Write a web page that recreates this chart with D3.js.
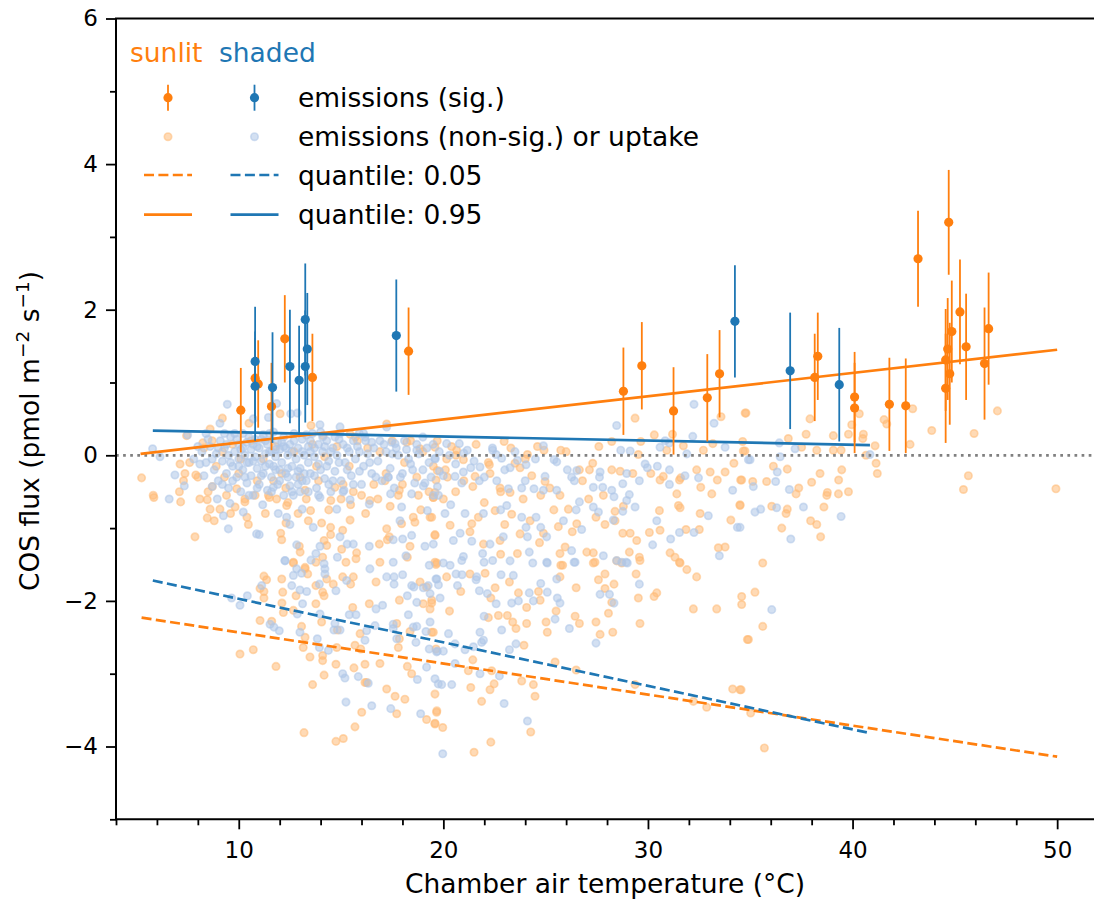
<!DOCTYPE html>
<html>
<head>
<meta charset="utf-8">
<script src="https://cdn.jsdelivr.net/npm/d3@7"></script>
<style>
body { margin: 0; background: #fff; }
svg { display: block; font-family: "DejaVu Sans", sans-serif; }
</style>
</head>
<body>
<svg id="chart" width="1094" height="900"></svg>
<script>
var sunlitColor = '#ff7f0e';
var shadedColor = '#1f77b4';
var sunlitLight = '#ffbb78';
var shadedLight = '#aec7e8';

var xTicks = [10, 20, 30, 40, 50];
var xMinorTicks = [4, 6, 8, 12, 14, 16, 18, 22, 24, 26, 28, 32, 34, 36, 38, 42, 44, 46, 48, 52];
var yTicks = [-4, -2, 0, 2, 4, 6];
var yMinorTicks = [-5, -3, -1, 1, 3, 5];

// significant emissions: [temperature, flux, error]
var sunlitSig = [
    [10.1, 0.62, 0.58], [10.8, 1.06, 0.55], [10.95, 0.98, 0.6], [11.6, 0.67, 0.6],
    [12.25, 1.6, 0.6], [13.6, 1.07, 0.6], [18.3, 1.43, 0.6], [28.8, 0.88, 0.6],
    [29.7, 1.23, 0.6], [31.25, 0.61, 0.6], [32.9, 0.79, 0.6], [33.5, 1.12, 0.6],
    [38.15, 1.07, 0.6], [38.3, 1.36, 0.6], [40.1, 0.8, 0.62], [40.1, 0.65, 0.62],
    [41.8, 0.70, 0.64], [42.6, 0.68, 0.65], [43.2, 2.7, 0.66], [44.55, 1.31, 0.7],
    [44.55, 0.92, 0.75], [44.65, 1.46, 0.7], [44.7, 3.2, 0.72], [44.75, 1.12, 0.7],
    [44.85, 1.7, 0.7], [45.25, 1.97, 0.72], [45.55, 1.49, 0.73], [46.45, 1.26, 0.77],
    [46.65, 1.74, 0.77]
];
var shadedSig = [
    [10.8, 1.29, 0.75], [10.8, 0.95, 0.75], [11.65, 0.93, 0.76], [12.5, 1.22, 0.78],
    [12.95, 1.03, 0.75], [13.25, 1.865, 0.77], [13.35, 1.46, 0.77], [13.25, 1.22, 0.77],
    [17.7, 1.645, 0.77], [34.25, 1.84, 0.77], [36.95, 1.16, 0.8], [39.35, 0.97, 0.78]
];

// non-significant emissions or uptake: [temperature, flux]
var sunlitOther = [
    [9.2,0.51],[8.6,0.36],[7.45,0.27],[8.24,0.17],[8.7,0.20],[5.25,-0.31],[5.82,-0.55],[5.85,-0.58],[7.16,-0.64],[7.13,-0.12],
    [7.9,-0.27],[7.3,-0.35],[7.1,-0.50],[7.37,-0.25],[8.46,-0.61],[8.6,-0.74],[9.08,-0.74],[8.71,-0.43],[8.46,-0.86],[7.86,-1.12],
    [10.47,-0.95],[9.82,-0.71],[10.3,-0.64],[9.9,-0.46],[12.05,-1.07],[11.45,-0.55],[11.85,-0.60],[12.34,-0.69],[12.31,-0.93],[12.1,-1.16],
    [12.67,-1.47],[12.96,-1.25],[13.0,-1.33],[13.24,-1.54],[13.51,-0.76],[13.24,-0.48],[14.05,-0.93],[14.49,-0.99],[14.49,-1.09],[14.17,-1.17],
    [14.3,-1.24],[14.1,-1.40],[15.03,-1.29],[15.08,-1.03],[15.44,-0.89],[15.47,-0.68],[14.7,-0.44],[15.76,-1.34],[15.73,-1.42],[16.87,-1.22],
    [16.9,-1.47],[18.24,-1.40],[17.26,-1.16],[17.36,-1.12],[18.37,-1.25],[19.59,-1.10],[19.59,-1.47],[17.23,-1.01],[17.96,-0.94],[18.53,-0.85],
    [18.61,-0.92],[19.35,-0.85],[16.41,-0.62],[17.85,-0.48],[18.78,-0.55],[19.51,-0.58],[19.59,-0.51],[17.15,-0.35],[18.21,0.18],[18.86,0.09],
    [17.23,0.43],[19.59,0.11],[19.7,-0.21],[15.8,0.20],[15.44,0.29],[14.13,0.27],[13.53,0.41],[12.02,0.57],[10.5,0.44],
    [29.37,0.51],[30.31,0.28],[31.2,0.29],[33.57,0.53],[34.75,0.58],[29.65,0.19],[28.23,0.19],[29.53,0.01],[30.92,0.07],[31.73,0.13],
    [32.71,0.07],[33.17,0.16],[34.66,0.06],[34.2,-0.11],[27.3,-0.11],[28.23,-0.20],[28.64,-0.22],[29.26,-0.25],[30.14,-0.25],[30.75,-0.29],
    [30.59,-0.34],[31.54,-0.34],[31.6,-0.31],[32.38,-0.20],[33.04,-0.23],[33.39,-0.34],[33.77,-0.23],[34.53,-0.34],[32.58,-0.44],[33.12,-0.53],
    [31.41,-0.53],[28.8,-0.70],[31.49,-0.69],[31.57,-0.72],[30.56,-0.76],[28.39,-0.77],[28.39,-0.90],[32.55,-0.80],[34.5,-0.69],[34.05,-0.89],
    [30.59,-1.03],[30.07,-1.06],[29.45,-1.17],[28.77,-1.07],[29.13,-1.07],[31.86,-1.02],[32.51,-1.02],[33.44,-1.27],[33.77,-1.26],[31.08,-1.34],
    [31.32,-1.40],[31.54,-1.47],[29.58,-1.40],[29.09,-1.33],[28.47,-1.45],
    [20.65,0.07],[20.62,0.00],[22.97,0.19],[24.92,0.07],[25.74,0.07],[24.11,0.01],[23.75,-0.17],[23.5,-0.11],[22.25,-0.13],[20.98,-0.06],
    [20.16,-0.05],[19.51,-0.15],[19.64,-0.34],[19.51,-0.58],[20.2,-0.30],[21.55,-0.29],[21.44,-0.43],[22.28,-0.25],[22.77,-0.45],[23.26,-0.51],
    [24.32,-0.28],[24.97,-0.36],[24.76,-0.55],[25.7,-0.55],[26.65,-0.20],[27.14,-0.20],[27.82,-0.55],[20.0,-0.60],[19.43,-0.85],[21.71,-0.85],
    [21.39,-0.94],[22.53,-0.76],[23.34,-0.81],[24.24,-0.90],[25.62,-0.98],[26.11,-0.74],[26.52,-0.94],[27.46,-0.85],[19.59,-1.09],[20.33,-0.96],
    [21.96,-1.22],[22.77,-1.17],[23.75,-1.08],[24.89,-1.07],[25.95,-1.26],[27.01,-1.33],[27.33,-1.34],[19.68,-1.48],[22.8,-1.36],[23.62,-1.35],
    [25.7,-1.35],[25.83,-1.51],[27.41,-1.47],
    [34.79,0.58],[37.92,0.50],[37.73,0.29],[36.86,0.23],[34.63,0.19],[34.74,0.06],[37.51,0.11],[38.25,0.07],[39.06,0.27],[39.06,0.07],
    [39.44,0.07],[39.8,0.29],[39.96,0.42],[40.33,0.57],[40.53,0.29],[40.5,0.23],[40.66,0.00],[41.1,0.13],[41.15,-0.11],[41.21,-0.25],
    [41.54,0.49],[41.67,0.43],[42.81,0.15],[42.94,0.64],[43.87,0.34],[45.94,0.30],[47.08,0.61],[45.66,-0.28],[45.42,-0.47],[49.94,-0.46],
    [36.13,-0.15],[35.8,-0.36],[35.12,-0.36],[34.58,-0.34],[36.81,-0.19],[38.41,-0.25],[38.0,-0.37],[39.47,-0.20],[39.32,-0.34],[37.37,-0.45],
    [37.24,-0.53],[38.77,-0.51],[38.74,-0.55],[39.31,-0.53],[39.8,-0.50],[34.5,-0.68],[36.05,-0.70],[36.81,-0.74],[36.75,-0.80],[38.6,-0.71],
    [37.95,-0.90],[38.25,-0.95],[36.54,-1.00],[38.44,-1.12],[35.61,-1.48],
    [12.67,-1.48],[13.24,-1.56],[13.37,-1.63],[11.23,-1.66],[11.36,-1.71],[12.1,-1.70],[11.04,-1.83],[11.23,-1.87],[11.23,-1.96],[12.15,-1.88],
    [12.8,-1.93],[13.77,-1.79],[14.3,-1.70],[13.77,-1.47],[14.62,-1.77],[14.1,-1.88],[14.17,-1.93],[15.08,-1.67],[15.6,-1.67],[15.47,-1.77],
    [15.24,-1.47],[16.71,-1.74],[18.86,-1.74],[19.18,-1.81],[17.85,-1.99],[19.02,-2.04],[19.43,-1.99],[19.35,-2.11],[11.04,-2.27],[11.61,-2.28],
    [10.06,-2.73],[10.71,-2.67],[11.82,-2.90],[12.11,-2.03],[12.18,-2.16],[12.67,-2.13],[13.77,-2.04],[13.07,-2.35],[13.24,-2.50],[13.15,-2.64],
    [14.05,-2.29],[13.48,-2.77],[14.1,-2.75],[14.1,-2.82],[14.17,-3.02],[13.61,-3.15],[14.75,-2.87],[14.82,-2.40],[14.79,-2.64],[15.57,-2.09],
    [15.93,-2.45],[15.68,-2.61],[15.96,-2.66],[16.38,-2.04],[17.72,-2.31],[17.85,-2.52],[17.8,-2.64],[18.37,-2.42],[19.43,-2.43],[19.64,-2.66],
    [16.9,-2.86],[16.17,-2.87],[15.63,-2.92],[16.17,-3.12],[16.25,-3.12],[17.23,-3.21],[17.64,-3.31],[18.12,-3.35],[18.24,-2.90],[18.45,-3.00],
    [19.59,-3.28],[16.01,-3.53],[17.72,-3.55],[19.18,-3.63],[19.59,-3.69],[19.67,-3.53],[15.68,-3.73],[13.19,-3.81],[14.75,-3.93],[15.11,-3.89],
    [19.64,-1.50],[25.74,-1.51],[27.33,-1.48],[28.72,-1.48],[29.61,-1.445],[31.57,-1.48],[31.9,-1.57],[32.38,-1.67],[20.16,-1.67],[21.3,-1.63],
    [22.04,-1.62],[23.23,-1.74],[20.85,-1.87],[22.53,-1.82],[22.32,-1.96],[23.67,-1.89],[24.65,-1.87],[24.73,-1.99],[25.7,-1.67],[24.07,-2.09],
    [26.49,-1.82],[26.44,-2.21],[26.65,-2.31],[27.58,-1.71],[27.9,-1.63],[28.34,-1.77],[27.9,-1.83],[28.23,-2.02],[28.07,-2.17],[27.46,-2.29],
    [27.66,-2.46],[28.28,-2.43],[29.42,-1.63],[29.53,-1.96],[29.61,-2.31],[30.3,-1.94],[30.43,-1.89],[32.22,-2.11],[33.36,-2.11],[34.58,-1.94],
    [34.58,-2.05],[34.86,-2.53],[20.3,-2.14],[19.43,-2.03],[19.51,-2.43],[22.2,-2.23],[22.69,-2.20],[23.13,-2.20],[23.39,-2.29],[23.55,-2.38],
    [23.94,-2.61],[24.07,-2.31],[25.02,-2.29],[25.08,-2.43],[25.51,-2.14],[21.44,-2.81],[21.22,-2.96],[22.36,-2.96],[22.48,-3.14],[22.28,-3.22],
    [23.83,-3.10],[24.4,-3.15],[24.48,-3.31],[25.46,-2.84],[26.49,-2.95],[21.34,-3.19],[21.87,-3.38],[19.68,-3.51],[19.59,-3.68],
    [19.97,-3.74],[24.27,-3.80],[22.32,-3.94],[21.5,-4.08],[29.37,-3.15],[32.22,-3.38],[32.87,-3.46],[34.14,-3.21],[34.5,-3.22],
    [35.23,-1.88],[35.61,-2.35],[34.91,-2.53],[34.55,-3.22],[35.02,-3.54],[35.69,-4.02],
    [8.0,-0.3],[8.3,0.1],[8.5,-0.5],[8.9,-0.15],[9.2,0.05],[9.4,-0.55],[9.7,0.15],[10.0,-0.25],[10.3,-0.6],[10.6,0.2],
    [10.9,-0.35],[11.2,-0.05],[11.5,-0.58],[11.8,0.12],[12.1,-0.25],[12.4,-0.65],[12.7,0.05],[13.0,-0.3],[13.3,-0.6],[13.6,0.15],
    [13.9,-0.35],[14.2,-0.02],[14.5,-0.62],[14.8,0.12],[15.1,-0.4],[15.4,-0.15],[15.7,0.25],[16.0,-0.55],[16.3,0.1],[16.6,-0.4],
    [16.9,0.05],[17.2,-0.25],[17.5,0.2],[17.8,-0.55],[18.1,-0.1],[18.4,0.2],[18.7,-0.3],[19.0,0.05],[19.3,-0.5],[19.7,0.2],
    [20.1,-0.2],[20.4,0.12],[21.0,-0.35],[21.6,0.15],[22.2,-0.1],[22.8,-0.5],[23.3,0.1],[24.0,-0.05],[24.6,0.12],[25.2,-0.45],
    [26.0,0.05],[26.8,-0.35],[27.6,0.12],
    [7.6,-0.1],[8.1,-0.6],[8.8,-0.9],[9.3,-0.3],[9.6,-0.8],[10.1,-0.05],[10.4,-0.85],[10.8,-0.55],[11.3,-0.8],[11.7,-0.35],
    [12.3,-0.45],[12.9,-0.8],[13.4,-0.9],[13.8,-0.15],[14.4,-0.75],[15.0,-0.6],[15.6,-0.5],[16.2,-0.8],[16.8,-0.6],[17.4,-0.7],
    [18.0,-0.4],[18.9,-0.75],[20.6,-0.5],[21.3,-1.05],[22.0,-0.65],[23.0,-0.95],[23.9,-0.6],[24.7,-1.2],[25.4,-0.75],[26.3,-1.05],
    [27.1,-0.6],[27.9,-0.95]
];

var shadedOther = [
    [9.44,0.70],[9.08,0.44],[8.4,0.30],[7.5,0.28],[5.79,0.09],[6.15,-0.02],[6.6,-0.60],[6.88,-0.27],[8.1,-0.12],[7.34,-0.42],
    [8.95,-0.60],[8.7,-0.43],[9.25,-0.83],[9.49,-1.01],[10.22,-0.78],[9.57,-0.66],[10.87,-1.08],[11.0,-1.09],[11.93,-0.80],[11.69,-0.44],
    [11.17,-0.68],[12.67,-0.55],[12.34,-0.85],[12.5,-0.95],[12.26,-1.45],[12.83,-1.23],[13.53,-1.44],[13.64,-0.99],[13.1,-0.74],[13.97,-0.58],
    [13.97,-1.25],[13.77,-1.35],[14.95,-1.12],[15.44,-0.61],[14.79,-0.74],[15.14,-0.48],[15.3,-1.22],[15.6,-1.22],[14.82,-1.40],[16.38,-1.25],
    [17.55,-1.47],[18.17,-1.38],[17.55,-1.16],[18.01,-1.15],[18.45,-1.10],[19.1,-1.25],[19.51,-1.22],[19.31,-1.51],[17.88,-0.90],[19.22,-0.76],
    [17.96,-0.71],[16.38,-0.67],[17.42,-0.53],[18.45,-0.53],[19.02,-0.42],[17.31,-0.30],[17.47,0.18],[17.64,0.16],[18.7,0.07],[17.23,0.39],
    [16.5,0.18],[16.17,0.25],[15.89,0.30],[14.95,0.39],[14.95,0.30],[13.97,0.42],[12.86,0.58],[12.54,0.57],[11.45,0.52],[11.85,0.71],[10.71,0.50],
    [28.47,0.41],[30.84,0.20],[32.19,0.26],[32.25,0.70],[33.23,0.44],[28.67,0.07],[29.13,0.06],[30.59,0.11],[31.05,0.17],[31.9,0.02],
    [33.77,0.11],[34.91,-0.06],[27.66,-0.23],[27.63,-0.30],[28.96,-0.25],[29.86,-0.12],[29.97,-0.17],[30.46,-0.15],[31.05,-0.20],[29.58,-0.35],
    [28.77,-0.39],[31.05,-0.40],[31.81,-0.28],[32.47,-0.31],[34.14,-0.48],[29.09,-0.54],[28.96,-0.62],[29.37,-0.71],[28.77,-0.77],[28.31,-0.89],
    [32.95,-0.83],[34.37,-0.99],[30.43,-0.90],[30.23,-1.23],[31.11,-1.15],[31.54,-1.06],[32.25,-1.06],[33.49,-1.38],[28.93,-1.47],[28.72,-1.47],
    [20.16,0.16],[20.78,0.16],[21.17,0.07],[22.41,0.07],[22.85,-0.04],[22.58,0.01],[24.89,0.13],[25.41,-0.06],[25.54,-0.09],[23.62,-0.07],
    [24.04,-0.13],[23.26,-0.17],[21.79,-0.16],[21.34,-0.17],[19.59,-0.04],[19.81,-0.22],[19.71,-0.43],[19.51,-0.55],[20.57,-0.29],[20.98,-0.23],
    [21.76,-0.35],[20.9,-0.38],[22.61,-0.35],[23.18,-0.46],[23.83,-0.45],[24.97,-0.29],[24.43,-0.46],[24.89,-0.48],[25.54,-0.48],[26.06,-0.20],
    [26.52,-0.21],[26.27,-0.30],[26.4,-0.35],[27.33,-0.44],[27.79,-0.44],[28.23,-0.48],[28.34,-0.57],[19.76,-0.55],[20.36,-0.68],[20.08,-0.80],
    [21.06,-0.80],[21.96,-0.80],[22.8,-0.75],[23.1,-0.69],[23.83,-0.85],[24.04,-0.99],[24.53,-0.85],[24.76,-0.99],[25.87,-0.90],[26.49,-0.75],
    [26.65,-0.64],[26.76,-1.02],[27.58,-0.78],[27.33,-0.71],[20.49,-1.17],[20.82,-1.07],[21.39,-1.18],[22.28,-1.22],[22.93,-1.12],[24.11,-1.12],
    [25.05,-1.12],[26.27,-1.31],[27.82,-1.38],[20.0,-1.48],[20.98,-1.39],[21.92,-1.35],[23.26,-1.45],[24.2,-1.33],[25.05,-1.47],[26.44,-1.47],
    [36.42,0.17],[37.19,0.09],[40.85,0.01],[34.99,-0.06],[36.46,-0.02],[36.32,-0.23],[36.24,-0.36],[35.15,-0.43],[36.91,-0.47],[35.23,-0.78],
    [35.51,-0.74],[36.29,-0.72],[37.6,-0.71],[39.44,-0.84],[34.5,-0.99],[36.98,-1.15],
    [12.26,-1.445],[12.83,-1.56],[12.67,-1.65],[13.07,-1.62],[11.12,-1.79],[12.59,-1.79],[12.99,-1.85],[13.32,-1.87],[13.94,-1.77],[14.21,-1.56],
    [14.21,-1.63],[14.17,-1.49],[14.75,-1.86],[15.27,-1.72],[16.41,-1.56],[17.23,-1.67],[17.59,-1.67],[17.59,-1.77],[18.01,-1.64],[18.45,-1.79],
    [18.56,-1.81],[19.02,-1.82],[19.26,-1.79],[19.64,-1.70],[19.35,-1.90],[18.24,-1.93],[18.7,-2.02],[10.06,-2.06],[9.65,-1.96],[10.42,-1.93],
    [11.53,-2.32],[11.98,-2.41],[11.72,-2.36],[12.86,-2.18],[13.12,-2.04],[13.97,-2.18],[12.99,-2.43],[13.84,-2.52],[13.94,-2.64],[14.38,-2.68],
    [14.7,-2.31],[14.65,-2.40],[14.95,-2.40],[15.4,-2.19],[15.73,-2.19],[16.25,-2.41],[16.17,-2.54],[16.71,-2.11],[17.03,-2.06],[16.66,-2.34],
    [17.55,-2.32],[17.55,-2.38],[17.72,-2.52],[18.29,-2.19],[18.53,-2.36],[18.7,-2.35],[19.15,-2.42],[18.66,-2.57],[19.31,-2.66],[19.67,-2.70],
    [15.08,-3.00],[15.19,-3.06],[15.84,-3.04],[16.33,-3.13],[18.73,-3.08],[19.18,-2.91],[19.59,-3.07],[19.75,-3.14],[15.24,-3.39],[16.5,-3.44],
    [17.43,-3.48],[18.89,-3.55],
    [20.33,-1.51],[20.9,-1.445],[21.99,-1.47],[22.41,-1.445],[24.37,-1.48],[25.08,-1.48],[26.39,-1.47],[28.47,-1.445],[28.99,-1.48],[19.68,-1.70],
    [20.62,-1.63],[20.91,-1.64],[21.63,-1.67],[21.6,-1.71],[22.82,-1.64],[23.42,-1.65],[19.76,-1.78],[20.69,-1.79],[21.76,-1.86],[22.15,-1.90],
    [22.58,-2.04],[24.2,-1.89],[24.76,-1.76],[25.08,-1.88],[25.54,-1.70],[25.57,-1.96],[25.7,-2.03],[24.4,-2.00],[23.34,-2.03],[23.67,-2.00],
    [26.16,-2.38],[27.66,-1.91],[28.12,-1.91],[28.34,-2.03],[27.46,-2.58],[29.58,-1.77],[19.84,-1.96],[19.35,-2.29],[20.25,-2.45],[19.71,-2.69],
    [20.0,-2.69],[20.57,-2.59],[21.06,-2.67],[21.47,-2.63],[21.87,-2.57],[21.96,-2.54],[21.79,-2.43],[21.99,-2.21],[22.85,-2.40],[23.23,-2.67],
    [23.55,-2.59],[25.46,-2.25],[20.57,-2.86],[21.79,-3.00],[22.74,-3.03],[19.92,-3.15],[20.41,-3.15],[22.97,-3.41],[24.11,-3.65],
    [19.97,-4.10],[36.05,-2.12],
    [8.2,0.05],[8.4,-0.1],[8.6,0.12],[8.8,-0.2],[8.9,0.02],[9.0,-0.35],[9.1,0.2],[9.2,-0.08],[9.3,0.1],[9.4,-0.25],
    [9.5,0.0],[9.5,-0.45],[9.6,0.25],[9.7,-0.15],[9.8,0.05],[9.9,-0.3],[10.0,0.15],[10.0,-0.05],[10.1,-0.5],[10.2,0.3],
    [10.2,-0.2],[10.3,0.0],[10.4,-0.38],[10.4,0.18],[10.5,-0.1],[10.6,0.08],[10.6,-0.28],[10.7,-0.55],[10.8,0.22],[10.8,-0.02],
    [10.9,-0.18],[11.0,0.1],[11.0,-0.4],[11.1,-0.08],[11.2,0.28],[11.2,-0.25],[11.3,0.02],[11.4,-0.48],[11.4,0.15],[11.5,-0.12],
    [11.6,-0.3],[11.6,0.05],[11.7,0.32],[11.8,-0.2],[11.8,-0.02],[11.9,0.18],[12.0,-0.35],[12.0,0.08],[12.1,-0.1],[12.2,-0.55],
    [12.2,0.25],[12.3,-0.25],[12.4,0.0],[12.5,0.15],[12.5,-0.42],[12.6,-0.15],[12.7,0.3],[12.8,-0.05],[12.8,-0.3],[12.9,0.1],
    [13.0,-0.5],[13.0,-0.18],[13.1,0.22],[13.2,0.0],[13.3,-0.35],[13.4,0.12],[13.4,-0.1],[13.5,-0.25],[13.6,0.3],[13.7,-0.02],
    [13.8,-0.45],[13.9,0.15],[14.0,-0.2],[14.1,0.05],[14.2,-0.32],[14.3,0.2],[14.4,-0.08],[14.5,-0.5],[14.6,0.1],[14.7,-0.22],
    [14.8,0.0],[15.0,-0.35],[15.1,0.15],[15.2,-0.1],[15.4,0.05],[15.5,-0.28],[15.7,-0.05],[15.8,0.12],[16.0,-0.4],[16.1,-0.15],
    [16.3,0.02],[16.5,-0.25],[16.6,0.1],[16.8,-0.08],[17.0,-0.35],[17.2,0.05],[17.4,-0.18],[17.6,-0.45],[17.8,0.0],[18.0,-0.25],
    [18.2,0.08],[18.4,-0.12],[18.6,-0.38],[18.8,0.02],[19.0,-0.2],[19.2,0.1],[19.4,-0.3],[19.6,-0.05],[19.8,0.05],[20.0,-0.28],
    [20.3,0.0],[20.6,-0.12],[21.0,0.03],[21.5,-0.08],[22.0,-0.3],[22.4,0.1],[23.0,-0.2],[23.5,0.05],[24.0,-0.35],[24.5,-0.05],
    [9.3,0.3],[9.6,-0.1],[9.9,0.22],[10.1,0.08],[10.3,-0.3],[10.5,0.25],[10.7,-0.08],[10.9,0.12],[11.1,-0.28],[11.3,0.2],
    [11.5,0.05],[11.7,-0.15],[11.9,-0.4],[12.1,0.18],[12.3,0.1],[12.4,-0.3],[12.6,0.05],[12.9,-0.22],[13.1,-0.35],[13.3,0.28],
    [13.5,0.05],[13.7,-0.28],[13.9,-0.12],[14.1,0.25],[14.3,-0.15],[14.6,-0.35],[14.9,0.22],[15.3,-0.2],[15.6,0.2],[15.9,-0.22],
    [16.2,0.2],[16.7,-0.3],[17.1,0.15],[17.5,0.02],[17.9,-0.3],[18.3,-0.05],[18.7,0.15],[19.1,-0.38],[19.5,0.15],
    [7.8,-0.05],[8.0,0.12],[8.3,-0.28],[8.5,0.22],[8.7,-0.05],[9.0,0.1],[9.2,-0.4],[9.4,0.15],[9.7,-0.35],[9.8,0.3],
    [10.0,-0.15],[10.2,0.1],[10.4,-0.1],[10.5,-0.55],[10.7,0.15],[10.9,-0.45],[11.1,0.22],[11.3,-0.15],[11.5,0.3],[11.6,-0.5],
    [11.8,0.08],[12.0,-0.2],[12.2,0.12],[12.4,-0.18],[12.6,-0.5],[12.7,0.2],[12.9,-0.4],[13.1,0.05],[13.2,-0.25],[13.4,-0.5],
    [13.5,0.2],[13.7,0.1],[13.9,-0.55],[14.0,0.32],[14.2,0.12],[14.4,-0.4],[14.5,0.05],[14.7,0.25],[14.9,-0.1],[15.1,-0.5],
    [15.3,0.1],[15.6,-0.4],[15.9,0.05],[16.1,0.3],[16.4,-0.1],[16.9,0.2],[17.3,-0.3],[17.7,0.1],[18.1,0.2],[18.5,-0.2],
    [19.0,0.25],[19.3,-0.1]
];

// quantile regression lines: endpoints [temperature, flux]
var sunlitQ95 = [[5.2, 0.02], [50.0, 1.45]];
var shadedQ95 = [[5.8, 0.34], [40.85, 0.14]];
var sunlitQ05 = [[5.25, -2.23], [50.0, -4.14]];
var shadedQ05 = [[5.8, -1.72], [40.75, -3.81]];

var plotLeft = 116;
var plotTop = 18.5;
var plotBottom = 819.3;

var xScale = d3.scaleLinear().domain([4, 52]).range([plotLeft, plotLeft + 48 * 20.46]);
var yScale = d3.scaleLinear().domain([-5, 6]).range([plotBottom, plotTop]);
var lineGenerator = d3.line()
    .x(function(d) { return xScale(d[0]); })
    .y(function(d) { return yScale(d[1]); });

var svg = d3.select('#chart');


/* Marks */
function drawScatter(data, color) {
    svg.append('g')
        .selectAll('circle')
        .data(data)
        .join('circle')
        .attr('cx', function(d) { return xScale(d[0]); })
        .attr('cy', function(d) { return yScale(d[1]); })
        .attr('r', 3.7)
        .style('fill', color)
        .style('fill-opacity', 0.55)
        .style('stroke', color)
        .style('stroke-opacity', 0.55)
        .style('stroke-width', 1.7);
}

function drawLine(data, color, dashed) {
    svg.append('path')
        .datum(data)
        .attr('d', lineGenerator)
        .style('fill', 'none')
        .style('stroke', color)
        .style('stroke-width', 2.7)
        .style('stroke-dasharray', dashed ? '10,4.4' : null);
}

function drawErrorbars(data, color) {
    var g = svg.append('g');
    g.selectAll('line')
        .data(data)
        .join('line')
        .attr('x1', function(d) { return xScale(d[0]); })
        .attr('x2', function(d) { return xScale(d[0]); })
        .attr('y1', function(d) { return yScale(d[1] - d[2]); })
        .attr('y2', function(d) { return yScale(d[1] + d[2]); })
        .style('stroke', color)
        .style('stroke-width', 1.8);
    g.selectAll('circle')
        .data(data)
        .join('circle')
        .attr('cx', function(d) { return xScale(d[0]); })
        .attr('cy', function(d) { return yScale(d[1]); })
        .attr('r', 4.6)
        .style('fill', color);
}

drawScatter(sunlitOther, sunlitLight);
drawScatter(shadedOther, shadedLight);

svg.append('line')
    .attr('x1', xScale(4))
    .attr('x2', xScale(52))
    .attr('y1', yScale(0))
    .attr('y2', yScale(0))
    .style('stroke', '#808080')
    .style('stroke-width', 2.7)
    .style('stroke-dasharray', '2.7,4.4');

drawLine(sunlitQ05, sunlitColor, true);
drawLine(shadedQ05, shadedColor, true);
drawLine(sunlitQ95, sunlitColor, false);
drawLine(shadedQ95, shadedColor, false);

drawErrorbars(sunlitSig, sunlitColor);
drawErrorbars(shadedSig, shadedColor);


/* Axes */
function styleAxis(g) {
    g.select('.domain').remove();
    g.selectAll('.tick line').style('stroke', '#000').style('stroke-width', 1.8);
    g.selectAll('.tick text')
        .style('font-size', '23px')
        .style('font-family', '"DejaVu Sans", sans-serif')
        .style('fill', '#000');
}

svg.append('g')
    .attr('transform', 'translate(0,' + plotBottom + ')')
    .call(d3.axisBottom(xScale).tickValues(xTicks).tickSize(10).tickPadding(12.4).tickFormat(d3.format('d')))
    .call(styleAxis);
svg.append('g')
    .attr('transform', 'translate(0,' + plotBottom + ')')
    .call(d3.axisBottom(xScale).tickValues(xMinorTicks).tickSize(6).tickFormat(''))
    .call(styleAxis);
svg.append('g')
    .attr('transform', 'translate(' + plotLeft + ',0)')
    .call(d3.axisLeft(yScale).tickValues(yTicks).tickSize(10).tickPadding(8).tickFormat(d3.format('d')))
    .call(styleAxis);
svg.append('g')
    .attr('transform', 'translate(' + plotLeft + ',0)')
    .call(d3.axisLeft(yScale).tickValues(yMinorTicks).tickSize(6).tickFormat(''))
    .call(styleAxis);

// spines (right one falls outside the picture)
svg.append('path')
    .attr('d', 'M' + xScale(52) + ',' + plotTop + 'H' + plotLeft + 'V' + plotBottom + 'H' + xScale(52))
    .style('fill', 'none')
    .style('stroke', '#000')
    .style('stroke-width', 2);

svg.append('text')
    .attr('x', 605)
    .attr('y', 893)
    .style('text-anchor', 'middle')
    .style('font-size', '26.5px')
    .text('Chamber air temperature (°C)');

var yLabel = svg.append('text')
    .attr('transform', 'translate(39,431) rotate(-90)')
    .style('text-anchor', 'middle')
    .style('font-size', '26.5px');
yLabel.append('tspan').text('COS flux (pmol m');
yLabel.append('tspan').attr('dy', -10).style('font-size', '18.5px').text('−2');
yLabel.append('tspan').attr('dy', 10).text(' s');
yLabel.append('tspan').attr('dy', -10).style('font-size', '18.5px').text('−1');
yLabel.append('tspan').attr('dy', 10).text(')');


/* Legend */
var legend = svg.append('g').style('font-size', '26.5px');
legend.append('text').attr('x', 130).attr('y', 62).style('fill', sunlitColor).text('sunlit');
legend.append('text').attr('x', 219).attr('y', 62).style('fill', shadedColor).text('shaded');

var legendRows = [
    {y: 97.7, label: 'emissions (sig.)'},
    {y: 136.7, label: 'emissions (non-sig.) or uptake'},
    {y: 175, label: 'quantile: 0.05'},
    {y: 214.7, label: 'quantile: 0.95'}
];
var legendCols = [
    {x: 168, color: sunlitColor, light: sunlitLight},
    {x: 254.5, color: shadedColor, light: shadedLight}
];

legendRows.forEach(function(row) {
    legend.append('text').attr('x', 298).attr('y', row.y + 9.6).style('fill', '#000').text(row.label);
});

legendCols.forEach(function(col) {
    legend.append('line')
        .attr('x1', col.x).attr('x2', col.x)
        .attr('y1', legendRows[0].y - 13).attr('y2', legendRows[0].y + 13)
        .style('stroke', col.color).style('stroke-width', 1.8);
    legend.append('circle')
        .attr('cx', col.x).attr('cy', legendRows[0].y).attr('r', 4.6)
        .style('fill', col.color);
    legend.append('circle')
        .attr('cx', col.x).attr('cy', legendRows[1].y).attr('r', 3.7)
        .style('fill', col.light).style('fill-opacity', 0.55)
        .style('stroke', col.light).style('stroke-opacity', 0.55).style('stroke-width', 1.7);
    legend.append('line')
        .attr('x1', col.x - 24).attr('x2', col.x + 24)
        .attr('y1', legendRows[2].y).attr('y2', legendRows[2].y)
        .style('stroke', col.color).style('stroke-width', 2.7).style('stroke-dasharray', '10,4.4');
    legend.append('line')
        .attr('x1', col.x - 24).attr('x2', col.x + 24)
        .attr('y1', legendRows[3].y).attr('y2', legendRows[3].y)
        .style('stroke', col.color).style('stroke-width', 2.7);
});
</script>
</body>
</html>
